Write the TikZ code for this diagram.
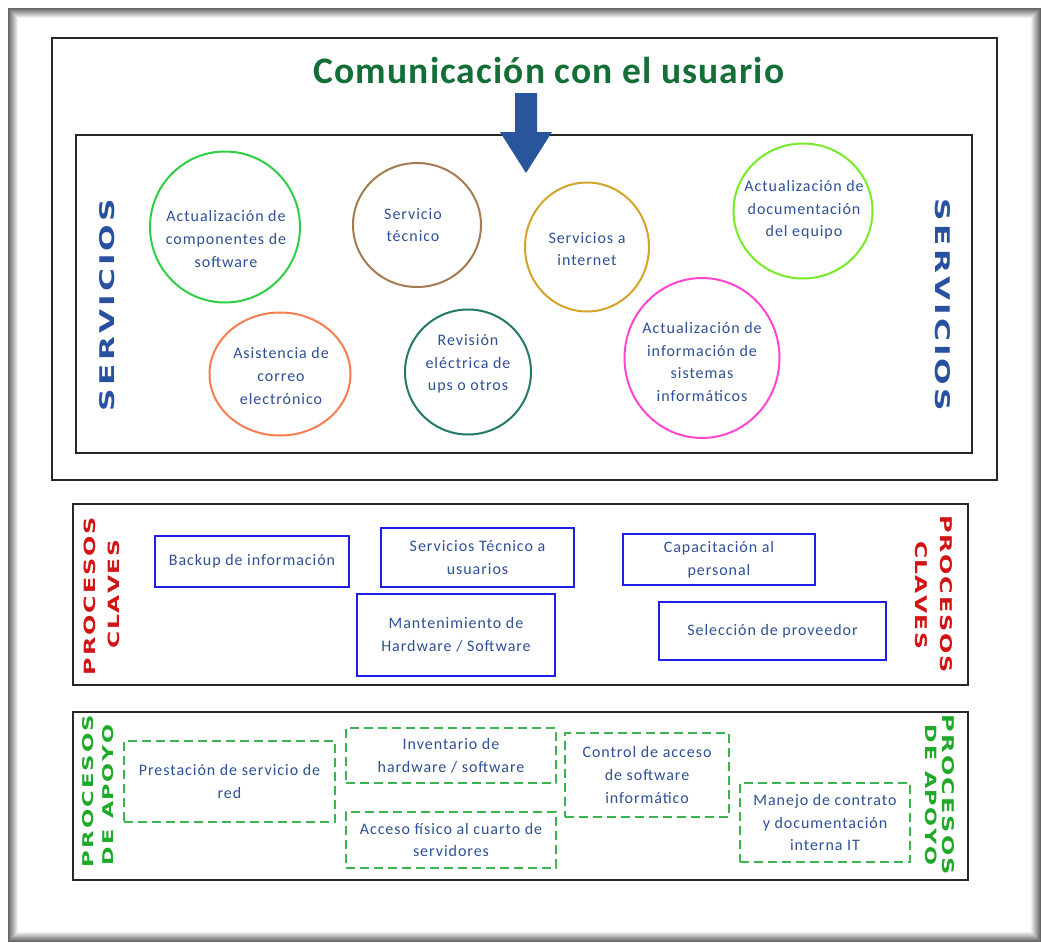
\documentclass[tikz,border=0pt]{standalone}
\usepackage{fontspec}
\usepackage{graphicx}
\usetikzlibrary{shapes.geometric}
\setmainfont{Carlito}
\newfontfamily\bodyfont{Carlito}[LetterSpace=6]
\newfontfamily\titlefont{Carlito}[LetterSpace=3]
\newfontfamily\sidefont{DejaVu Sans}
\definecolor{txt}{RGB}{45,80,150}
\definecolor{titlegreen}{RGB}{20,110,55}
\definecolor{arrowblue}{RGB}{40,85,155}
\definecolor{sideblue}{RGB}{40,80,160}
\definecolor{sidered}{RGB}{210,20,20}
\definecolor{sidegreen}{RGB}{30,170,40}
\definecolor{cgreen}{RGB}{50,205,70}
\definecolor{cbrown}{RGB}{165,124,82}
\definecolor{cgold}{RGB}{212,164,42}
\definecolor{clime}{RGB}{120,235,40}
\definecolor{corange}{RGB}{250,125,80}
\definecolor{cteal}{RGB}{35,120,105}
\definecolor{cmagenta}{RGB}{255,70,210}
\definecolor{boxblue}{RGB}{30,30,230}
\definecolor{dashgreen}{RGB}{60,180,80}
\definecolor{framegray}{RGB}{40,40,40}
\makeatletter
\newcommand\spaced[2]{\def\sp@k{#1}\sp@first#2\relax}
\def\sp@first#1{#1\sp@next}
\def\sp@next#1{\ifx#1\relax\else\kern\sp@k\relax#1\expandafter\sp@next\fi}
\makeatother
% \sidetext{width}{height}{kern}{letters}
\newcommand\sidetext[4]{\resizebox{#1}{#2}{\sidefont\bfseries\fontsize{10}{12}\selectfont\spaced{#3}{#4}}}
\tikzset{
  frame/.style={draw=framegray, line width=1.5pt},
  circ/.style={ellipse, draw, line width=2pt, inner sep=0pt},
  ctext/.style={font=\bodyfont\fontsize{16}{22.7}\selectfont, text=txt, align=center, inner sep=0pt},
  pbox/.style={rectangle, draw=boxblue, line width=1.3pt, inner sep=0pt, font=\bodyfont\fontsize{16}{22.7}\selectfont, text=txt, align=center},
  abox/.style={rectangle, draw=dashgreen, line width=1.2pt, dash pattern=on 9pt off 5pt, inner sep=0pt, font=\bodyfont\fontsize{16}{22.7}\selectfont, text=txt, align=center},
  side/.style={inner sep=0pt}
}
\begin{document}
\begin{tikzpicture}[x=1pt,y=-1pt]
\useasboundingbox (0,0) rectangle (1041,942);
\fill[white] (0,0) rectangle (1041,942);
\foreach \i in {0,...,9}{
  \pgfmathtruncatemacro\g{60-6*\i}
  \draw[black!\g, line width=1pt] (8.5+\i,8.5+\i) rectangle (1040.5-\i,941.5-\i);
}
% frames
\draw[frame] (52,38) rectangle (997,480);
\draw[frame] (76,135) rectangle (972,453);
\draw[frame] (73,504) rectangle (968,685);
\draw[frame] (73,712) rectangle (968,880);
% title and arrow
\node[anchor=base, inner sep=0pt, text=titlegreen, font=\titlefont\bfseries\fontsize{37.5}{40}\selectfont] (title) at (549,83) {Comunicación con el usuario};
\fill[arrowblue] (515,93) -- (537,93) -- (537,132) -- (552,132) -- (526,173) -- (500,132) -- (515,132) -- cycle;
% side labels
\node[side, text=sideblue, rotate=90] (servL) at (107.5,305) {\sidetext{212pt}{15pt}{1pt}{SERVICIOS}};
\node[side, text=sideblue, rotate=-90] (servR) at (943,305) {\sidetext{212pt}{15pt}{1pt}{SERVICIOS}};
\node[side, text=sidered, rotate=90] (pcL1) at (90,596) {\sidetext{158pt}{11.5pt}{0.8pt}{PROCESOS}};
\node[side, text=sidered, rotate=90] (pcL2) at (114,594) {\sidetext{108pt}{11.5pt}{0.6pt}{CLAVES}};
\node[side, text=sidered, rotate=-90] (pcR1) at (946.5,594) {\sidetext{158pt}{12pt}{0.8pt}{PROCESOS}};
\node[side, text=sidered, rotate=-90] (pcR2) at (921,595) {\sidetext{108pt}{12pt}{0.6pt}{CLAVES}};
\node[side, text=sidegreen, rotate=90] (paL1) at (88,791) {\sidetext{152pt}{11pt}{0.9pt}{PROCESOS}};
\node[side, text=sidegreen, rotate=90] (paL2) at (108,795) {\sidetext{140pt}{11pt}{0.7pt}{DE~APOYO}};
\node[side, text=sidegreen, rotate=-90] (paR1) at (948.5,795) {\sidetext{160pt}{12pt}{0.9pt}{PROCESOS}};
\node[side, text=sidegreen, rotate=-90] (paR2) at (931,795) {\sidetext{140pt}{11.5pt}{0.7pt}{DE~APOYO}};
% circles
\node[circ, draw=cgreen, minimum width=150pt, minimum height=151pt] (c1) at (225,227) {};
\node[circ, draw=cbrown, minimum width=128pt, minimum height=124pt] (c2) at (417,225) {};
\node[circ, draw=cgold, minimum width=124pt, minimum height=129pt] (c3) at (587,247) {};
\node[circ, draw=clime, minimum width=139pt, minimum height=135pt] (c4) at (803,211) {};
\node[circ, draw=corange, minimum width=141pt, minimum height=123pt] (c5) at (280,374) {};
\node[circ, draw=cteal, minimum width=126pt, minimum height=125pt] (c6) at (468,372) {};
\node[circ, draw=cmagenta, minimum width=155pt, minimum height=160pt] (c7) at (702,358) {};
\node[ctext] (t1) at (226,239) {Actualización de\\componentes de\\software};
\node[ctext] (t2) at (413,225) {Servicio\\técnico};
\node[ctext] (t3) at (587,249) {Servicios a\\internet};
\node[ctext] (t4) at (804,210) {Actualización de\\documentación\\del equipo};
\node[ctext] (t5) at (281,376) {Asistencia de\\correo\\electrónico};
\node[ctext] (t6) at (468,364) {Revisión\\eléctrica de\\ups o otros};
\node[ctext] (t7) at (702,362) {Actualización de\\información de\\sistemas\\informáticos};
% key processes
\node[pbox, minimum width=194pt, minimum height=51pt] (b1) at (252,561.5) {Backup de información};
\node[pbox, minimum width=193pt, minimum height=59pt] (b2) at (477.5,557.5) {Servicios Técnico a\\usuarios};
\node[pbox, minimum width=192pt, minimum height=51pt] (b3) at (719,559.5) {Capacitación al\\personal};
\node[pbox, minimum width=198pt, minimum height=82pt] (b4) at (456,635) {Mantenimiento de\\Hardware / Software};
\node[pbox, minimum width=227pt, minimum height=58pt] (b5) at (772.5,631) {Selección de proveedor};
% support processes
\node[abox, minimum width=211pt, minimum height=81pt] (a1) at (229.5,781.5) {Prestación de servicio de\\red};
\node[abox, minimum width=210pt, minimum height=55pt] (a2) at (451,755.5) {Inventario de\\hardware / software};
\node[abox, minimum width=210pt, minimum height=56pt] (a3) at (451,840) {Acceso físico al cuarto de\\servidores};
\node[abox, minimum width=164pt, minimum height=84pt] (a4) at (647,775) {Control de acceso\\de software\\informático};
\node[abox, minimum width=170pt, minimum height=79pt] (a5) at (825,822.5) {Manejo de contrato\\y documentación\\interna IT};
\end{tikzpicture}
\end{document}
